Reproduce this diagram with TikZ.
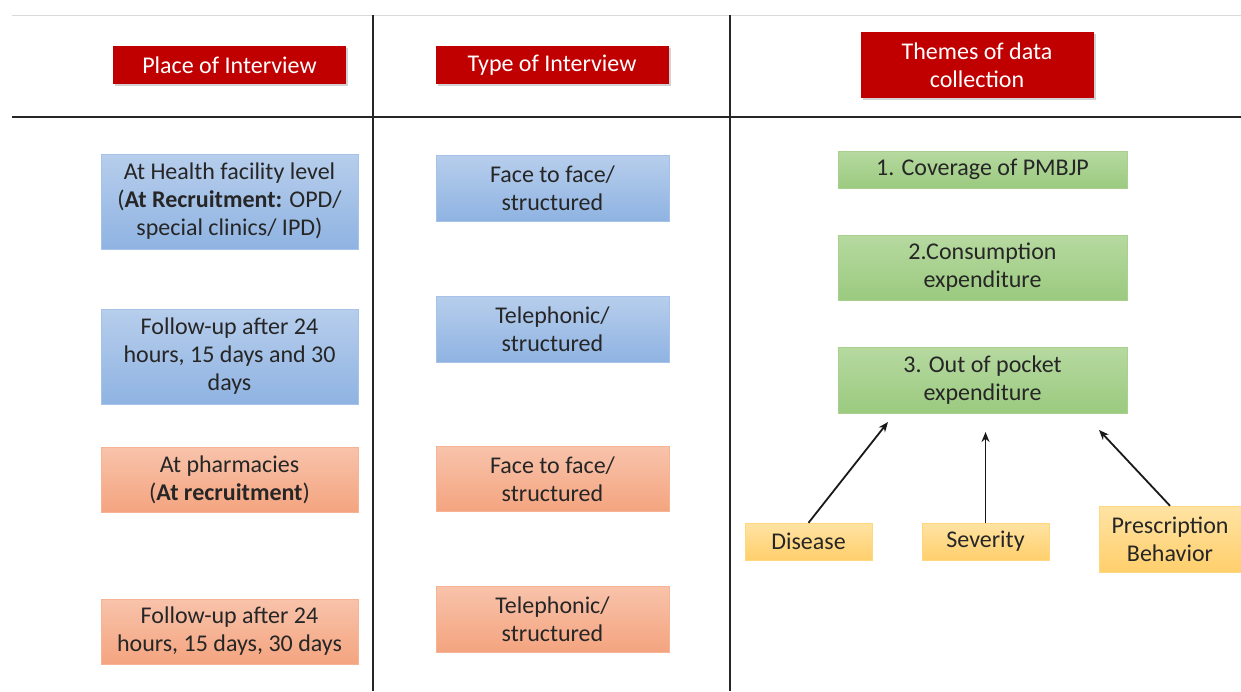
\documentclass[tikz,border=0pt]{standalone}
\usepackage{fontspec}
\setmainfont{Carlito}
\usetikzlibrary{arrows, arrows.meta, positioning, shadows}
\definecolor{hdrred}{HTML}{C00000}
\definecolor{bluetop}{HTML}{B7CEEC}
\definecolor{bluebot}{HTML}{8FB3E2}
\definecolor{blueline}{HTML}{A6C2E8}
\definecolor{orangetop}{HTML}{F8C3AB}
\definecolor{orangebot}{HTML}{F4A47F}
\definecolor{orangeline}{HTML}{F6B495}
\definecolor{greentop}{HTML}{B6D9A0}
\definecolor{greenbot}{HTML}{9BCA7F}
\definecolor{greenline}{HTML}{A8D18D}
\definecolor{yellowtop}{HTML}{FFE3A3}
\definecolor{yellowbot}{HTML}{FFCF6C}
\definecolor{yellowline}{HTML}{FFD77F}
\definecolor{textgrey}{HTML}{262626}
\tikzstyle{header} = [rectangle, minimum width=233pt, minimum height=38pt, text centered, align=center, fill=hdrred, text=white, drop shadow={shadow xshift=2pt, shadow yshift=-2pt, opacity=0.35}]
\tikzstyle{bluebox} = [rectangle, minimum width=257pt, text centered, align=center, draw=blueline, top color=bluetop, bottom color=bluebot, text=textgrey]
\tikzstyle{orangebox} = [rectangle, minimum width=257pt, text centered, align=center, draw=orangeline, top color=orangetop, bottom color=orangebot, text=textgrey]
\tikzstyle{greenbox} = [rectangle, minimum width=289pt, text centered, align=center, draw=greenline, top color=greentop, bottom color=greenbot, text=textgrey]
\tikzstyle{factor} = [rectangle, minimum width=127pt, minimum height=37pt, text centered, align=center, draw=yellowline, top color=yellowtop, bottom color=yellowbot, text=textgrey]
\tikzstyle{rule} = [line width=1.2pt, black!85]
\tikzstyle{arrow} = [line width=1.8pt, ->, >={Stealth[length=10pt, width=8pt]}, black!90]

\begin{document}
\begin{tikzpicture}[x=1pt, y=-1pt, node distance=150pt, font=\fontsize{24pt}{28pt}\selectfont]
\useasboundingbox (0,0) rectangle (1241,691);
\fill[white] (0,0) rectangle (1241,691);

% Table rules
\draw [line width=0.8pt, black!15] (12,15) -- (1241,15);
\draw [rule] (12,117) -- (1241,117);
\draw [rule] (373,15) -- (373,691);
\draw [rule] (730,15) -- (730,691);

% Headers
\node (placeHdr) [header] at (229.5,65) {Place of Interview};
\node (typeHdr) [header] at (552,65) {Type of Interview};
\node (themeHdr) [header, minimum height=66pt] at (977,65) {Themes of data\\collection};

% Place of interview
\node (facility) [bluebox, minimum height=95pt] at (229.5,201.5) {At Health facility level\\(\textbf{At Recruitment:} OPD/\\special clinics/ IPD)};
\node (facilityFollow) [bluebox, minimum height=95pt, below of=facility, yshift=-5pt] {Follow-up after 24\\hours, 15 days and 30\\days};
\node (pharmacy) [orangebox, minimum height=65pt, below of=facilityFollow, yshift=27pt] {At pharmacies\\(\textbf{At recruitment})};
\node (pharmacyFollow) [orangebox, minimum height=65pt, below of=pharmacy, yshift=-2pt] {Follow-up after 24\\hours, 15 days, 30 days};

% Type of interview
\node (faceBlue) [bluebox, minimum width=233pt, minimum height=66pt] at (552.5,188) {Face to face/\\structured};
\node (phoneBlue) [bluebox, minimum width=233pt, minimum height=66pt, below of=faceBlue, yshift=9pt] {Telephonic/\\structured};
\node (faceOrange) [orangebox, minimum width=233pt, minimum height=65pt, below of=phoneBlue] {Face to face/\\structured};
\node (phoneOrange) [orangebox, minimum width=233pt, minimum height=66pt, below of=faceOrange, yshift=10pt] {Telephonic/\\structured};

% Themes
\node (coverage) [greenbox, minimum height=37pt] at (982.5,169.5) {1. Coverage of PMBJP};
\node (consumption) [greenbox, minimum height=65pt, below of=coverage, yshift=52pt] {2.Consumption\\expenditure};
\node (oop) [greenbox, minimum height=66pt, below of=consumption, yshift=37.5pt] {3. Out of pocket\\expenditure};

% Factors
\node (disease) [factor] at (808.5,541.5) {Disease};
\node (severity) [factor, right of=disease, xshift=27pt] {Severity};
\node (prescription) [factor, minimum width=142pt, minimum height=66pt, right of=severity, xshift=34.5pt, yshift=2.5pt] {Prescription\\Behavior};

% Arrow heads
\coordinate (diseaseHead) at (888,422);
\coordinate (severityHead) at (985.5,432);
\coordinate (prescriptionHead) at (1099,430);

% Arrows
\draw [arrow] (disease.north) -- (diseaseHead);
\draw [arrow] (severity.north) -- (severityHead);
\draw [arrow] (prescription.north) -- (prescriptionHead);

\end{tikzpicture}
\end{document}
